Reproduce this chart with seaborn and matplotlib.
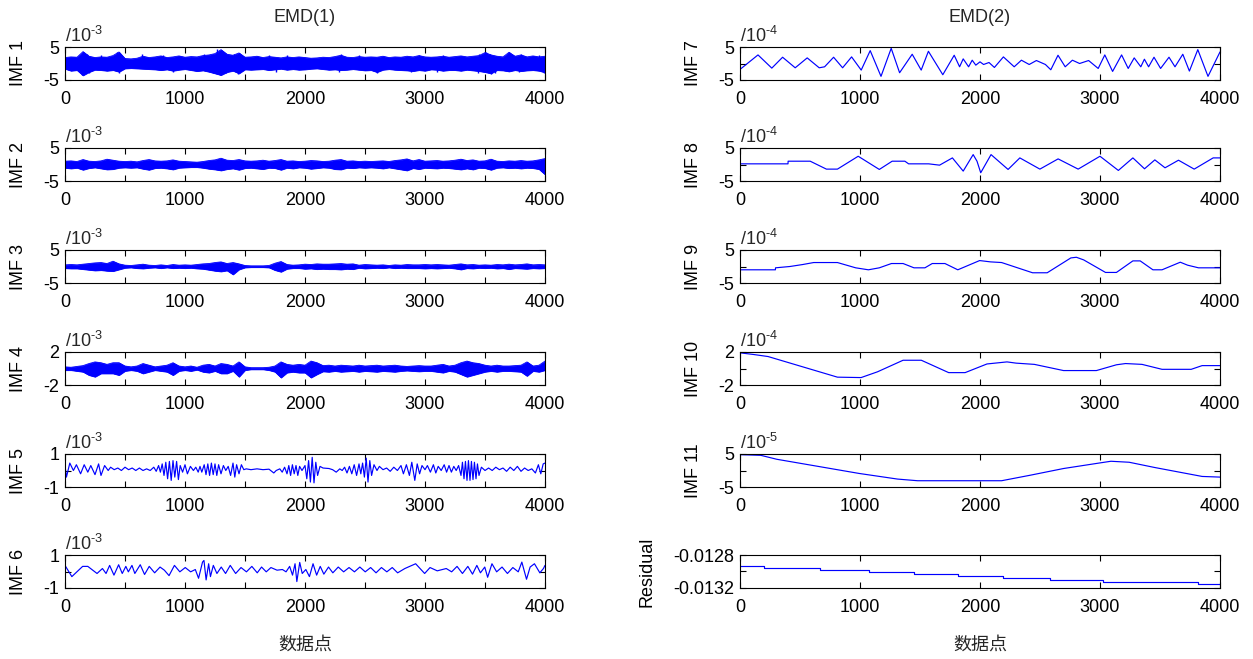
import numpy as np
import pandas as pd
import matplotlib
matplotlib.use("Agg")
import matplotlib.pyplot as plt
import seaborn as sns

# ---- values ----
# dense IMFs (1-4): upper / lower envelope every 50 samples, units of 1e-3
env_t = list(range(0, 4001, 50))

imf1_hi = [1.8, 2.0, 1.9, 3.6, 2.2, 1.8, 2.0, 1.9, 2.4, 3.5,
           1.5, 1.4, 1.6, 2.2, 1.8, 2.0, 2.3, 1.8, 2.0, 2.3,
           1.9, 2.1, 2.0, 2.4, 2.6, 3.0, 4.2, 2.8, 2.5, 3.2,
           1.9, 2.0, 2.2, 1.8, 2.1, 1.9, 1.7, 2.0, 1.8, 2.0,
           1.8, 1.6, 1.7, 1.9, 1.8, 2.1, 2.5, 1.9, 1.8, 2.1,
           1.9, 2.0, 1.9, 2.2, 1.8, 2.0, 1.9, 2.2, 2.0, 2.4,
           2.0, 1.9, 2.0, 2.2, 1.9, 2.1, 2.3, 2.0, 2.2, 2.4,
           3.3, 2.6, 2.2, 2.0, 3.4, 2.2, 2.6, 2.0, 2.3, 2.0,
           2.2]
imf1_lo = [-1.6, -2.2, -2.0, -3.6, -2.6, -1.9, -2.0, -2.2, -2.0, -2.5,
           -1.5, -1.4, -1.5, -1.6, -1.7, -1.8, -2.0, -1.8, -2.2, -1.9,
           -1.7, -2.0, -2.3, -2.1, -2.5, -3.0, -3.5, -2.6, -2.2, -3.0,
           -1.8, -1.9, -1.8, -1.7, -2.0, -1.8, -1.6, -1.9, -1.7, -1.9,
           -1.8, -1.6, -1.5, -1.7, -1.9, -1.8, -2.0, -1.9, -1.7, -1.9,
           -2.1, -2.0, -2.6, -1.9, -1.7, -1.9, -2.0, -2.1, -2.3, -2.0,
           -2.2, -1.8, -1.9, -2.2, -2.0, -2.0, -2.2, -1.9, -2.1, -2.3,
           -2.6, -3.0, -2.0, -2.1, -2.4, -2.0, -2.3, -2.1, -2.0, -2.2,
           -2.7]
# single spikes sticking out of the IMF1 band
imf1_spike_t = [150, 180, 300, 430, 640, 820, 1160, 1270, 1300, 1410,
                1450, 1700, 1850, 2300, 2450, 2950, 3150, 3450, 3510, 3540,
                3700, 3800, 3950,
                140, 200, 450, 900, 1250, 1290, 1340, 1440, 1760, 2280,
                2600, 2880, 3100, 3440, 3550, 3580, 3780, 3990]
imf1_spike_v = [3.6, 3.0, 2.7, 3.5, 2.8, 2.6, 2.8, 4.3, 3.8, 3.0,
                3.3, 2.6, 2.5, 2.8, 2.6, 2.7, 2.6, 2.8, 3.4, 3.0,
                3.4, 3.0, 2.7,
                -3.6, -3.0, -2.8, -2.7, -3.0, -3.6, -3.0, -3.2, -2.5, -2.6,
                -2.9, -2.7, -2.5, -2.8, -3.2, -3.0, -2.7, -2.8]

imf2_hi = [1.0, 1.1, 0.9, 1.5, 1.0, 0.9, 1.1, 1.6, 1.3, 1.0,
           0.9, 1.0, 0.8, 1.2, 1.5, 1.1, 1.0, 1.1, 1.4, 1.0,
           0.9, 0.8, 0.7, 0.9, 1.2, 1.4, 1.9, 1.3, 1.2, 1.5,
           1.1, 1.0, 1.1, 1.3, 1.0, 1.2, 1.5, 1.0, 1.1, 0.9,
           1.0, 1.2, 1.1, 0.9, 1.0, 1.3, 1.5, 1.0, 1.1, 0.9,
           1.0, 0.9, 1.0, 1.1, 0.9, 1.2, 1.4, 1.7, 1.1, 1.5,
           1.0, 1.1, 1.2, 1.0, 1.1, 1.3, 1.6, 1.2, 1.4, 1.0,
           1.1, 1.6, 1.0, 0.9, 1.1, 1.0, 1.2, 1.0, 1.1, 1.4,
           1.8]
imf2_lo = [-1.0, -1.2, -1.0, -1.6, -1.1, -0.9, -1.2, -1.5, -1.4, -1.0,
           -0.9, -1.0, -0.9, -1.3, -1.6, -1.1, -1.0, -1.2, -1.5, -1.0,
           -0.9, -0.8, -0.8, -1.0, -1.3, -1.5, -1.8, -1.4, -1.2, -1.6,
           -1.1, -1.0, -1.2, -1.4, -1.0, -1.1, -1.6, -1.0, -1.2, -0.9,
           -1.0, -1.3, -1.1, -0.9, -1.0, -1.4, -1.5, -1.0, -1.1, -0.9,
           -1.0, -0.9, -1.0, -1.2, -0.9, -1.2, -1.5, -1.8, -1.1, -1.4,
           -1.0, -1.1, -1.2, -1.0, -1.1, -1.3, -1.5, -1.2, -1.5, -1.0,
           -1.1, -1.6, -1.0, -0.9, -1.1, -1.0, -1.2, -1.0, -1.1, -1.4,
           -3.0]

imf3_hi = [0.5, 0.6, 0.5, 0.7, 0.9, 1.1, 1.2, 0.9, 1.6, 0.8,
           0.4, 0.3, 0.5, 0.7, 0.4, 0.3, 0.5, 0.3, 0.6, 0.4,
           0.5, 0.4, 0.6, 0.8, 0.9, 1.2, 1.4, 0.9, 1.2, 0.8,
           0.3, 0.2, 0.2, 0.2, 0.3, 1.0, 1.5, 0.6, 0.4, 0.5,
           0.7, 0.6, 0.8, 0.7, 0.7, 0.8, 0.9, 0.7, 0.8, 0.4,
           0.6, 0.5, 0.4, 0.5, 0.3, 0.5, 0.4, 0.6, 0.5, 0.5,
           0.6, 0.5, 0.6, 0.5, 0.4, 0.6, 0.8, 0.5, 0.6, 0.4,
           0.5, 0.4, 0.6, 0.5, 0.7, 0.5, 0.6, 0.8, 0.5, 0.6,
           0.5]
imf3_lo = [-0.5, -0.6, -0.6, -0.8, -1.0, -1.2, -1.1, -1.3, -1.4, -0.9,
           -0.4, -0.3, -0.5, -0.6, -0.4, -0.3, -0.5, -0.3, -0.5, -0.4,
           -0.5, -0.4, -0.6, -0.7, -1.0, -1.3, -1.5, -1.2, -2.4, -0.9,
           -0.3, -0.2, -0.2, -0.2, -0.3, -1.1, -1.6, -0.7, -0.5, -0.5,
           -0.7, -0.6, -0.8, -0.7, -0.8, -0.8, -0.9, -0.7, -0.8, -0.4,
           -0.6, -0.5, -0.4, -0.5, -0.3, -0.5, -0.4, -0.5, -0.5, -0.5,
           -0.6, -0.5, -0.6, -0.5, -0.4, -0.6, -0.9, -0.5, -0.6, -0.4,
           -0.5, -0.4, -0.6, -0.5, -0.8, -0.5, -0.6, -0.7, -0.5, -0.6,
           -0.5]

imf4_hi = [0.2, 0.15, 0.25, 0.35, 0.6, 0.8, 0.7, 0.5, 0.7, 0.7,
           0.3, 0.2, 0.3, 0.6, 0.4, 0.2, 0.3, 0.4, 0.7, 0.3,
           0.2, 0.3, 0.15, 0.4, 0.5, 0.3, 0.6, 0.5, 0.3, 0.8,
           0.2, 0.1, 0.1, 0.1, 0.15, 0.3, 0.8, 0.5, 0.4, 0.5,
           0.4, 0.9, 0.7, 0.35, 0.4, 0.3, 0.4, 0.35, 0.3, 0.4,
           0.3, 0.35, 0.4, 0.3, 0.35, 0.4, 0.3, 0.25, 0.3, 0.35,
           0.3, 0.3, 0.4, 0.5, 0.3, 0.4, 0.7, 0.9, 0.7, 0.6,
           0.4, 0.3, 0.4, 0.3, 0.3, 0.35, 0.4, 0.8, 0.3, 0.4,
           0.9]
imf4_lo = [-0.2, -0.2, -0.3, -0.4, -0.8, -1.0, -0.6, -0.6, -0.6, -0.8,
           -0.3, -0.2, -0.3, -0.6, -0.4, -0.2, -0.3, -0.4, -0.8, -0.3,
           -0.2, -0.3, -0.15, -0.4, -0.5, -0.3, -0.6, -0.6, -0.3, -1.0,
           -0.2, -0.1, -0.1, -0.1, -0.2, -0.4, -1.1, -0.5, -0.4, -0.5,
           -0.5, -1.1, -0.7, -0.35, -0.4, -0.3, -0.4, -0.35, -0.3, -0.4,
           -0.3, -0.35, -0.4, -0.3, -0.35, -0.4, -0.3, -0.25, -0.3, -0.35,
           -0.3, -0.3, -0.4, -0.5, -0.3, -0.4, -0.7, -1.0, -0.8, -0.6,
           -0.4, -0.3, -0.4, -0.3, -0.3, -0.35, -0.4, -0.9, -0.3, -0.4,
           -0.2]

# IMF5 turning points (units of 1e-3)
imf5_t = [0, 12, 40, 70, 95, 130, 160, 190, 215, 250,
          280, 300, 330, 360, 380, 410, 440, 470, 500, 530,
          560, 590, 620, 650, 680, 710, 740, 760, 780, 795,
          810, 825, 840, 855, 870, 885, 900, 915, 930, 945,
          960, 980, 1000, 1020, 1045, 1070, 1090, 1110, 1125, 1140,
          1160, 1175, 1190, 1205, 1220, 1235, 1250, 1265, 1280, 1300,
          1320, 1340, 1360, 1380, 1400, 1415, 1430, 1450, 1470, 1490,
          1510, 1550, 1600, 1650, 1700, 1740, 1760, 1790, 1810, 1830,
          1850, 1865, 1880, 1895, 1910, 1925, 1940, 1955, 1975, 2000,
          2015, 2030, 2045, 2060, 2075, 2090, 2105, 2125, 2150, 2200,
          2230, 2260, 2290, 2310, 2330, 2350, 2370, 2390, 2410, 2430,
          2450, 2465, 2480, 2495, 2510, 2525, 2540, 2555, 2575, 2600,
          2620, 2650, 2680, 2710, 2740, 2770, 2800, 2820, 2845, 2870,
          2890, 2915, 2935, 2955, 2975, 3000, 3020, 3045, 3070, 3090,
          3110, 3135, 3160, 3180, 3200, 3220, 3240, 3260, 3280, 3300,
          3312, 3325, 3337, 3350, 3362, 3375, 3387, 3400, 3412, 3425,
          3437, 3450, 3470, 3500, 3530, 3560, 3590, 3620, 3650, 3680,
          3710, 3740, 3770, 3800, 3830, 3860, 3890, 3920, 3945, 3965,
          3985, 4000]
imf5_v = [0.3, -0.4, 0.45, 0.0, 0.35, -0.2, 0.35, -0.1, 0.3, -0.25,
          0.4, -0.3, 0.3, 0.0, 0.2, 0.05, 0.15, 0.0, 0.2, 0.05,
          0.15, 0.0, 0.15, 0.0, 0.1, 0.0, 0.2, -0.05, 0.3, -0.1,
          0.4, -0.3, 0.5, -0.5, 0.55, -0.6, 0.6, -0.4, 0.55, -0.55,
          0.3, -0.1, 0.35, -0.2, 0.25, 0.0, 0.2, -0.1, 0.25, -0.1,
          0.35, -0.25, 0.4, -0.3, 0.45, -0.25, 0.4, -0.3, 0.35, -0.2,
          0.3, 0.0, 0.25, -0.3, 0.45, -0.4, 0.35, -0.2, 0.35, 0.05,
          0.1, 0.05, 0.1, 0.05, 0.08, -0.15, 0.0, 0.1, -0.1, 0.2,
          -0.2, 0.3, -0.3, 0.35, -0.2, 0.3, -0.3, 0.25, 0.0, 0.3,
          -0.5, 0.6, -0.7, 0.8, -0.75, 0.5, -0.3, 0.25, 0.15, 0.12,
          0.05, -0.1, 0.1, 0.0, 0.2, -0.15, 0.25, -0.2, 0.35, -0.3,
          0.4, -0.2, 0.45, -0.4, 0.75, -0.7, 0.6, -0.3, 0.35, 0.0,
          0.25, 0.05, 0.15, -0.05, 0.2, 0.0, 0.3, -0.2, 0.35, -0.3,
          0.5, -0.6, 0.4, -0.2, 0.3, 0.05, 0.3, -0.1, 0.35, -0.15,
          0.25, 0.0, 0.35, -0.1, 0.3, -0.1, 0.25, 0.0, 0.3, -0.3,
          0.5, -0.5, 0.55, -0.6, 0.6, -0.6, 0.55, -0.55, 0.5, -0.5,
          0.4, -0.3, 0.2, 0.0, 0.15, 0.0, 0.2, 0.05, 0.15, -0.05,
          0.2, 0.0, 0.25, -0.05, 0.15, 0.0, 0.1, -0.15, 0.35, -0.2,
          0.4, 0.45]

# IMF6 turning points (units of 1e-3)
imf6_t = [0, 57, 147, 190, 267, 312, 342, 372, 408, 447,
          477, 507, 528, 558, 582, 627, 663, 702, 747, 792,
          828, 867, 912, 957, 1002, 1047, 1086, 1113, 1146, 1158,
          1176, 1197, 1212, 1236, 1266, 1302, 1338, 1377, 1422, 1467,
          1512, 1557, 1602, 1638, 1677, 1716, 1767, 1812, 1842, 1872,
          1896, 1917, 1932, 1956, 1977, 2007, 2037, 2067, 2097, 2127,
          2157, 2196, 2232, 2277, 2322, 2367, 2412, 2457, 2502, 2547,
          2592, 2637, 2682, 2727, 2772, 2832, 2922, 2997, 3042, 3102,
          3177, 3222, 3267, 3312, 3357, 3396, 3432, 3462, 3498, 3522,
          3558, 3597, 3642, 3687, 3732, 3777, 3807, 3846, 3876, 3912,
          3957, 3987, 4000]
imf6_v = [0.37, -0.31, 0.31, 0.31, -0.12, 0.18, -0.12, 0.37, -0.22, 0.41,
          -0.12, 0.31, -0.02, 0.37, -0.12, 0.41, -0.18, 0.31, -0.08, 0.27,
          0.08, -0.25, 0.37, -0.02, 0.24, -0.02, 0.12, -0.41, 0.57, 0.67,
          -0.51, 0.47, -0.31, 0.37, -0.12, 0.27, -0.12, 0.37, -0.12, 0.24,
          -0.02, 0.31, -0.08, 0.27, -0.02, 0.24, 0.08, 0.12, -0.02, 0.31,
          -0.22, 0.47, -0.61, 0.55, -0.12, 0.12, -0.31, 0.47, -0.22, 0.31,
          -0.16, 0.27, -0.08, 0.27, -0.02, 0.24, -0.02, 0.27, -0.02, 0.24,
          -0.08, 0.24, -0.02, 0.24, -0.08, 0.18, 0.47, -0.12, 0.24, 0.04,
          0.18, -0.02, 0.31, -0.12, 0.31, -0.16, 0.37, -0.08, 0.27, -0.35,
          0.47, -0.02, 0.27, -0.12, 0.24, -0.02, 0.57, -0.47, 0.27, 0.47,
          -0.08, 0.18, 0.37]

# IMF7 (units of 1e-4)
imf7_t = [0, 150, 265, 355, 460, 560, 660, 705, 780, 855,
          930, 1010, 1085, 1175, 1260, 1330, 1435, 1510, 1570, 1690,
          1785, 1830, 1860, 1905, 1935, 1965, 2000, 2030, 2075, 2120,
          2195, 2285, 2345, 2410, 2470, 2545, 2590, 2650, 2710, 2770,
          2830, 2905, 2985, 3040, 3105, 3180, 3235, 3285, 3340, 3370,
          3405, 3450, 3505, 3575, 3625, 3690, 3745, 3815, 3900, 4000]
imf7_v = [-1.8, 2.6, -1.4, 1.9, -1.3, 1.7, -1.3, -1.0, 1.9, -1.3,
          2.0, -2.0, 3.9, -3.9, 4.6, -2.8, 2.8, -2.0, 3.7, -3.4,
          2.5, -1.0, 1.4, -1.0, 1.0, -0.5, 0.5, -0.3, 0.3, -1.2,
          2.0, -1.0, 1.0, -0.3, 0.9, -0.3, -1.9, 2.5, -1.0, 1.0,
          0.0, 0.9, -1.5, 2.6, -2.4, 2.6, -1.5, 1.7, -1.0, 1.3,
          -1.0, 1.9, -1.5, 1.9, -1.0, 2.8, -2.3, 4.2, -3.9, 3.5]

# IMF8 (units of 1e-4)
imf8_t = [0, 400, 401, 585, 720, 812, 985, 1161, 1268, 1374,
          1405, 1572, 1663, 1770, 1860, 1943, 1975, 2006, 2092, 2234,
          2332, 2499, 2651, 2818, 3000, 3153, 3274, 3371, 3457, 3542,
          3654, 3785, 3943, 4000]
imf8_v = [0.2, 0.2, 1.0, 1.0, -1.4, -1.4, 2.5, -1.5, 1.0, 1.0,
          0.2, 0.2, -0.2, 2.0, -2.0, 3.0, 1.0, -2.5, 3.0, -1.5,
          2.0, -1.4, 1.7, -1.4, 2.5, -1.8, 2.0, -1.3, 1.4, -1.0,
          1.3, -1.4, 2.0, 2.0]

# IMF9 (units of 1e-4)
imf9_t = [0, 295, 296, 416, 523, 614, 812, 964, 1070, 1161,
          1262, 1359, 1450, 1541, 1602, 1708, 1815, 1997, 2088, 2180,
          2438, 2560, 2757, 2803, 2864, 3046, 3137, 3274, 3335, 3441,
          3517, 3669, 3730, 3821, 4000]
imf9_v = [-1.0, -1.0, -0.4, 0.0, 0.6, 1.2, 1.2, -0.4, -1.0, -0.4,
          0.9, 0.9, -0.4, -0.4, 0.9, 0.9, -1.0, 1.8, 1.4, 1.2,
          -1.9, -1.9, 2.6, 2.8, 2.0, -1.8, -1.8, 1.7, 1.7, -1.0,
          -1.0, 1.3, 0.4, -0.4, -0.4]

# IMF10 (units of 1e-4)
imf10_t = [0, 112, 234, 812, 1009, 1146, 1359, 1511, 1739, 1876,
           2058, 2225, 2301, 2453, 2696, 2970, 3137, 3213, 3350, 3517,
           3760, 3851, 4000]
imf10_v = [1.9, 1.7, 1.45, -1.05, -1.1, -0.4, 1.0, 1.0, -0.5, -0.5,
           0.55, 0.8, 0.65, 0.5, -0.25, -0.25, 0.45, 0.6, 0.5, -0.1,
           -0.1, 0.35, 0.35]

# IMF11 (units of 1e-5)
imf11_t = [0, 173, 307, 994, 1313, 1480, 2180, 2423, 2696, 3000,
           3091, 3243, 3457, 3851, 4000]
imf11_v = [4.8, 4.6, 3.4, -0.9, -2.6, -3.1, -3.1, -1.4, 0.6, 2.3,
           2.8, 2.5, 0.9, -1.8, -2.0]

# residual (step changes)
res_t = [0, 200, 670, 1075, 1450, 1820, 2195, 2585, 3025, 3815, 4000]
res_v = [-0.012936, -0.012963, -0.012985, -0.013011, -0.013033,
         -0.013055, -0.013077, -0.013103, -0.013125, -0.013147, -0.013147]

# ---- style ----
sns.set_theme(style="ticks")
plt.rcParams['font.family'] = ['Liberation Sans', 'Noto Sans CJK SC']
plt.rcParams['mathtext.default'] = 'regular'
plt.rcParams['axes.unicode_minus'] = False
plt.rcParams['axes.edgecolor'] = 'black'
plt.rcParams['axes.linewidth'] = 0.8

BLUE = '#0000ff'
W, H = 1253, 659
FS = 13
tops = [47, 148, 250, 352, 454, 555]
AX_H = 33

fig = plt.figure(figsize=(W / 100, H / 100), dpi=100)


def make_ax(col, row):
    x0 = 65 if col == 0 else 740
    return fig.add_axes([x0 / W, 1 - (tops[row] + AX_H) / H, 480 / W, AX_H / H])


def style(ax, lim, labels, name, col, scale=None, label_x=-0.079):
    ax.set_xlim(0, 4000)
    ax.set_ylim(lim[0], lim[2])
    ax.set_yticks(lim)
    ax.set_yticklabels(labels)
    if col == 0:
        ticks = list(range(0, 4001, 500))
        ax.set_xticks(ticks)
        ax.set_xticklabels([str(t) if t % 1000 == 0 else '' for t in ticks])
    else:
        ax.set_xticks(range(0, 4001, 1000))
        ax.set_xticklabels([str(t) for t in range(0, 4001, 1000)])
    ax.tick_params(direction='in', top=True, right=True, length=4, width=0.8,
                   labelsize=FS, colors='black', pad=4)
    ax.tick_params(axis='x', pad=8)
    ax.set_xlabel('')
    ax.set_ylabel(name, fontsize=FS, color='black')
    ax.yaxis.set_label_coords(label_x, 0.5)
    for s in ax.spines.values():
        s.set_color('black')
        s.set_linewidth(0.8)
    if scale is not None:
        # hyphen (U+2010) so the exponent keeps the short dash of the original
        ax.text(0, 1.04, '/10$^{\u2010%d}$' % abs(scale), transform=ax.transAxes,
                ha='left', va='bottom', fontsize=FS)


# left column: EMD(1)
dense = [(imf1_hi, imf1_lo, 5), (imf2_hi, imf2_lo, 5),
         (imf3_hi, imf3_lo, 5), (imf4_hi, imf4_lo, 2)]
for i, (hi, lo, lim) in enumerate(dense):
    ax = make_ax(0, i)
    ax.fill_between(env_t, lo, hi, color=BLUE, linewidth=0.6)
    sns.lineplot(x=env_t, y=hi, ax=ax, color=BLUE, linewidth=0.6, sort=False, estimator=None)
    sns.lineplot(x=env_t, y=lo, ax=ax, color=BLUE, linewidth=0.6, sort=False, estimator=None)
    if i == 0:
        ax.vlines(imf1_spike_t, 0, imf1_spike_v, color=BLUE, linewidth=1.0)
    style(ax, [-lim, 0, lim], [str(-lim), '', str(lim)], 'IMF %d' % (i + 1), 0, -3)

for i, (t, v) in enumerate([(imf5_t, imf5_v), (imf6_t, imf6_v)]):
    ax = make_ax(0, 4 + i)
    sns.lineplot(x=t, y=v, ax=ax, color=BLUE, linewidth=0.85, sort=False, estimator=None)
    style(ax, [-1, 0, 1], ['-1', '', '1'], 'IMF %d' % (5 + i), 0, -3)

# right column: EMD(2)
right = [(imf7_t, imf7_v, 5, -4), (imf8_t, imf8_v, 5, -4), (imf9_t, imf9_v, 5, -4),
         (imf10_t, imf10_v, 2, -4), (imf11_t, imf11_v, 5, -5)]
for i, (t, v, lim, sc) in enumerate(right):
    ax = make_ax(1, i)
    sns.lineplot(x=t, y=v, ax=ax, color=BLUE, linewidth=0.85, sort=False, estimator=None)
    style(ax, [-lim, 0, lim], [str(-lim), '', str(lim)], 'IMF %d' % (7 + i), 1, sc)

ax = make_ax(1, 5)
sns.lineplot(x=res_t, y=res_v, ax=ax, color=BLUE, linewidth=0.85, sort=False,
             estimator=None, drawstyle='steps-post')
style(ax, [-0.0132, -0.0130, -0.0128], ['-0.0132', '', '-0.0128'], 'Residual', 1,
      label_x=-0.177)

# titles and x labels
for xc, title in [(305, 'EMD(1)'), (980, 'EMD(2)')]:
    fig.text(xc / W, 1 - 17 / H, title, ha='center', va='center', fontsize=FS)
    fig.text(xc / W, 1 - 645 / H, '数据点', ha='center', va='center', fontsize=FS,
             family=['Noto Sans CJK SC'])

fig.savefig('out.png', dpi=100)
